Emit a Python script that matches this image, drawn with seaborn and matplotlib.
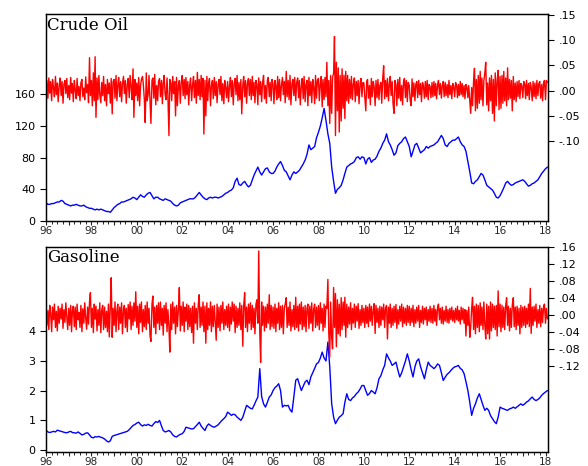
import matplotlib
matplotlib.use("Agg")
import matplotlib.pyplot as plt
import matplotlib.dates as mdates
from matplotlib.ticker import FixedLocator, FuncFormatter
import numpy as np
import pandas as pd
import seaborn as sns

# monthly prices, Jan 1996 .. Feb 2018 (crude in $/bbl, gasoline in $/gal)
crude_price = [
    23, 21, 21, 22, 22, 23, 24, 24, 26, 25, 22, 21,
    20, 19, 20, 20, 21, 20, 19, 19, 20, 18, 17, 16,
    16, 15, 14, 15, 14, 15, 14, 13, 12, 12, 11, 14,
    17, 19, 21, 22, 24, 24, 25, 26, 27, 28, 30, 29,
    27, 30, 33, 31, 30, 33, 35, 36, 32, 28, 30, 30,
    28, 27, 26, 28, 27, 26, 25, 22, 20, 19, 20, 23,
    24, 25, 26, 27, 28, 28, 28, 30, 33, 36, 33, 30,
    28, 27, 29, 30, 29, 30, 30, 29, 30, 31, 33, 35,
    36, 38, 39, 42, 50, 54, 46, 45, 48, 50, 46, 43,
    45, 52, 58, 63, 68, 62, 58, 62, 66, 67, 62, 60,
    60, 63, 68, 72, 75, 70, 64, 62, 57, 52, 58, 62,
    60, 62, 64, 68, 72, 77, 84, 96, 90, 92, 94, 105,
    112, 120, 130, 142, 127, 110, 98, 68, 50, 35, 40, 42,
    45, 52, 60, 68, 70, 72, 73, 75, 80, 81, 78, 81,
    80, 72, 78, 80, 74, 77, 78, 82, 88, 92, 98, 102,
    110, 100, 96, 90, 83, 86, 95, 98, 100, 104, 106, 100,
    94, 81, 88, 96, 98, 92, 86, 88, 90, 94, 92, 94,
    95, 96, 98, 100, 104, 108, 104, 96, 94, 98, 100, 102,
    102, 104, 106, 100, 96, 94, 88, 75, 62, 48, 47, 50,
    52, 56, 60, 58, 52, 45, 43, 41, 39, 35, 30, 29,
    32, 37, 42, 48, 50, 47, 45, 46, 48, 49, 50, 51,
    52, 50, 47, 44, 45, 47, 48, 50, 52, 56, 60, 63,
    66, 68,
]

gas_price = [
    0.66, 0.60, 0.58, 0.60, 0.62, 0.60, 0.66, 0.64, 0.62, 0.60, 0.58, 0.57,
    0.60, 0.62, 0.58, 0.57, 0.56, 0.60, 0.55, 0.50, 0.52, 0.56, 0.57, 0.50,
    0.42, 0.40, 0.44, 0.43, 0.45, 0.42, 0.40, 0.36, 0.30, 0.26, 0.30, 0.45,
    0.48, 0.50, 0.52, 0.54, 0.56, 0.58, 0.60, 0.62, 0.68, 0.75, 0.82, 0.85,
    0.90, 0.93, 0.85, 0.80, 0.84, 0.82, 0.86, 0.82, 0.80, 0.88, 0.95, 0.92,
    0.99, 0.80, 0.65, 0.60, 0.62, 0.65, 0.60, 0.50, 0.45, 0.43, 0.48, 0.52,
    0.54, 0.62, 0.76, 0.74, 0.72, 0.70, 0.71, 0.78, 0.85, 0.93, 0.80, 0.72,
    0.65, 0.80, 0.87, 0.82, 0.78, 0.76, 0.80, 0.84, 0.92, 0.99, 1.05, 1.12,
    1.27, 1.22, 1.16, 1.20, 1.18, 1.10, 1.05, 0.99, 1.10, 1.30, 1.50, 1.45,
    1.40, 1.38, 1.50, 1.65, 1.78, 2.74, 1.80, 1.55, 1.44, 1.60, 1.78, 1.85,
    2.00, 2.10, 2.15, 2.23, 2.00, 1.44, 1.50, 1.48, 1.50, 1.35, 1.27, 1.78,
    2.35, 2.40, 2.20, 2.00, 2.15, 2.29, 2.35, 2.20, 2.46, 2.60, 2.75, 2.90,
    2.95, 3.10, 3.30, 3.10, 3.00, 3.64, 2.80, 1.55, 1.10, 0.88, 1.00, 1.10,
    1.15, 1.22, 1.60, 1.89, 1.70, 1.66, 1.75, 1.80, 1.89, 1.95, 2.05, 2.17,
    2.17, 2.00, 1.84, 1.90, 2.00, 1.95, 1.89, 2.10, 2.40, 2.50, 2.70, 2.85,
    3.24, 3.10, 3.00, 2.85, 2.90, 2.96, 2.70, 2.46, 2.60, 2.80, 3.00, 3.24,
    3.00, 2.70, 2.46, 2.80, 3.00, 3.07, 2.80, 2.60, 2.40, 2.70, 2.96, 2.85,
    2.80, 2.74, 2.80, 2.90, 2.85, 2.60, 2.34, 2.45, 2.55, 2.60, 2.68, 2.75,
    2.80, 2.82, 2.85, 2.75, 2.70, 2.57, 2.30, 2.00, 1.60, 1.16, 1.40, 1.55,
    1.75, 1.89, 1.70, 1.50, 1.33, 1.40, 1.33, 1.15, 1.05, 0.95, 0.88, 1.10,
    1.44, 1.40, 1.38, 1.35, 1.33, 1.38, 1.40, 1.44, 1.40, 1.45, 1.50, 1.55,
    1.50, 1.55, 1.61, 1.65, 1.72, 1.78, 1.70, 1.66, 1.70, 1.75, 1.84, 1.90,
    1.95, 2.00,
]

# returns in thousandths, two readings per month
crude_ret = [
    -56, 20, -15, 25, -5, 18, -20, 22, 5, -12, 28, -8, 15, -22, 10, 25, -10, 18, -25, 12, 20, -6, 24, -14,
    10, -18, 26, -5, 14, -22, 20, 2, -16, 24, -10, 8, -20, 15, 22, -12, 5, -18, 27, -4, 12, -24, 65, -10,
    20, -30, 35, -20, 67, -53, 25, -18, 30, -8, -24, 16, -10, 28, -20, 12, -30, 22, -6, 15, -25, 24, -46, 18,
    22, -15, 30, -20, 10, 26, -12, 18, -22, 14, 28, -6, 20, -25, 12, 24, -14, 30, 8, -18, 43, -53, 22, -10,
    15, -20, 26, -30, 10, 22, 28, 12, -18, -63, 35, -20, -8, 30, -24, -65, 20, 25, -15, 32, -28, 10, -20, 18,
    24, -12, 20, -26, 14, 30, -8, -18, 25, -10, -89, 22, 15, -20, 28, -6, 18, -50, 26, -30, 12, 20, -25, 15,
    30, -10, 22, -16, 26, -8, 18, -28, 12, 25, -20, 10, 28, -14, 20, -25, 36, -10, 22, -18, 30, -12, 24, -86,
    20, -50, 28, -20, 15, 24, -30, 10, 20, -16, 26, -10, 18, -24, 12, 22, -8, 28, -20, 14, -26, 20, 6, -14,
    18, -22, 10, 26, -12, 20, -28, 14, 24, -8, 30, -20, 16, -18, 22, -46, 10, 28, -12, 20, -25, 15, 24, -10,
    22, -18, 28, -10, 16, -24, 20, 12, -28, 25, -8, 18, -22, 14, 30, -16, 10, -25, 20, 26, -12, 16, -20, 22,
    12, -26, 20, 8, -18, 28, -14, 22, -20, 10, 26, -8, 18, -24, 38, -12, 20, -18, 30, -28, 14, 22, -10, 26,
    -20, 16, 25, -14, 20, -28, 10, 24, -16, 28, -22, 12, 20, -30, 26, -10, 18, -24, 22, 8, -26, 30, -15, 20,
    24, -20, 14, 28, -32, 22, -18, 26, -12, 56, -30, 20, -65, 30, -45, 25, 35, 107, -89, 56, -40, 45, -82, 30,
    -60, 43, -35, 30, -55, 38, -20, 30, -25, 22, -15, 28, -18, 12, 25, -22, 18, -10, 20, -26, 14, 24, -12, 16,
    15, -12, -40, 18, 22, -15, 10, -28, 24, -12, 18, 8, -30, 20, -14, 22, -18, 10, 16, -25, 26, 49, -16, 20,
    -12, 24, -20, 14, 28, -10, 18, -26, -45, 20, 12, -30, 22, -15, 26, -20, 10, -28, 18, 24, -14, 20, -22, 16,
    10, -18, -30, 23, -12, 15, -20, 12, 18, -14, 20, -8, 14, -22, 16, 10, -15, 18, -12, 20, -18, 12, 8, -14,
    16, -12, 18, -10, 14, -16, 12, 20, -8, 14, -15, 10, 18, -12, 16, -10, 12, -14, 20, -8, 10, -16, 14, 8,
    -12, 16, 10, -14, 12, -10, 18, -8, 14, -12, 10, -16, 12, 8, -14, 10, -20, -45, 6, -30, 20, 44, -40, 22,
    -35, 30, -25, 38, -18, 25, -30, 20, 35, 56, -28, 15, -40, 25, -20, 30, -45, 22, -60, 35, -30, 20, 40, -38,
    28, -35, 30, -25, 38, -20, 25, -30, 45, -18, 22, -15, 20, -40, 28, -18, 15, -22, 18, -12, 20, -16, 14, 10,
    -14, 18, 12, -16, 20, -10, 14, -18, 16, 8, -20, 18, -12, 15, -16, 20, -10, 14, 18, -15, 12, -20, 16, 20,
    -18, 20, 16,
]

gas_ret = [
    20, -25, 10, -35, 22, 5, -40, 18, -12, 25, -30, 8, -38, 20, -20, 15, -10, 25, -32, 12, -18, 28, -5, -35,
    15, -25, 22, -40, 10, 20, -28, 18, -35, 25, -12, 5, -30, 22, -40, 14, -20, 28, -8, -34, 18, -22, 30, 52,
    -30, 15, -42, 25, -10, 20, -38, 12, -25, 28, -42, 10, 22, -35, 18, -30, 8, -40, 25, -52, 20, 87, -53, 15,
    -25, 30, -40, 10, 25, -35, 18, -20, 28, -45, 12, 22, -30, 15, -40, 24, -10, 30, -35, 20, -25, 28, -15, 54,
    -30, 20, -45, 25, -18, 30, -40, 12, -28, 22, -35, 30, -20, 15, -50, -63, 25, 44, -30, 18, -45, 22, -20, 28,
    -35, 30, -25, 15, -48, 22, -20, 28, -40, 12, -30, -88, 25, -35, 30, -20, 18, -45, 22, -28, 15, 64, -38, 20,
    -25, 30, -40, 18, -15, 25, -35, 22, -28, 15, -42, 20, -67, 28, -20, 15, -35, 22, 47, -30, 18, -25, 30, -40,
    20, -67, 28, -35, 15, -25, 30, -40, 20, -28, 22, -15, -60, 25, -30, 18, -38, 22, -20, 30, -35, 12, -25, 20,
    -30, 25, -38, 18, -22, 30, -15, 25, -42, 20, -30, 15, -25, 28, -35, 22, -74, 20, 52, -30, 18, -40, 25, -20,
    28, -35, 22, -30, 15, -45, 25, 35, -20, 150, -40, -112, 30, -25, 20, -38, 18, -30, 25, -20, 47, -35, 22, -28,
    18, -32, 25, -40, 15, -20, 28, -35, 20, -30, 22, -45, 15, 25, 40, -30, 18, -25, 30, -38, 12, -28, 22, -35,
    41, -30, 20, -38, 25, -22, 30, -35, 18, -28, 22, -40, 15, 25, -32, 20, -20, 28, -38, 12, 25, -30, 18, -25,
    22, -35, 28, -20, 15, -38, 25, -30, 20, 15, 83, -40, -100, 30, -55, -80, 64, -30, 50, -75, 35, -45, 25, -50,
    40, -35, 30, -25, 41, -53, 25, -30, 18, -22, 28, -35, 15, -20, 25, -30, 20, -15, 26, -32, 12, -25, 22, -18,
    15, -30, 22, -20, 18, -28, 25, -15, 20, -25, 12, 26, -44, 22, -18, 15, -30, 20, -25, 18, -12, 25, -30, 15,
    22, -57, 18, -20, 25, -30, 15, -25, 20, -18, 24, -32, 12, -22, 20, -15, 25, -28, 18, -20, 15, -25, 22, -18,
    20, -25, 15, -18, 22, -28, 12, -20, 18, -15, 22, -30, 10, -18, 20, -22, 15, -12, 18, -25, 12, -15, 20, -18,
    15, -20, 22, -15, 12, -25, 18, 25, -12, 15, -20, 18, -22, 10, -15, 20, -18, 12, -20, 15, -12, 18, -15, 10,
    -18, 15, -12, 20, -15, 10, -22, 18, -12, 15, -20, 12, -50, 10, -25, 18, -53, -30, 15, 41, -35, 20, -45, 25,
    -30, 22, -40, 28, -25, 18, -35, 30, -25, -57, 25, -45, 20, -57, 30, -38, 25, -30, 20, -35, 22, -50, 56, -28,
    25, -40, 22, -30, 18, -35, 22, 40, -25, 20, -38, 15, -30, 22, 40, -28, 18, -35, 20, -25, 15, -45, 22, -30,
    18, -25, 20, -30, 15, -22, 25, -28, 62, -44, 18, -25, 20, -15, 25, -30, 12, -20, 22, -28, 15, -18, 20, 25,
    -20, 15, -10,
]

sns.set_style("ticks")
plt.rcParams["font.family"] = ["DejaVu Sans"]
plt.rcParams["axes.unicode_minus"] = False

BLUE = "#0000FF"
RED = "#FF0000"
X_START = pd.Timestamp("1996-01-01")
X_END = pd.Timestamp("2018-02-10")


def year_label(x, pos):
    yr = mdates.num2date(x).year
    return f"{yr % 100:02d}" if yr % 2 == 0 else ""


def draw_panel(ax, price, ret, name, left_lim, left_ticks, right_lim, right_ticks, right_labels):
    price_dates = pd.date_range("1996-01-01", periods=len(price), freq="MS")
    ret_dates = pd.date_range("1996-01-01", periods=len(ret), freq="SMS")
    ret_vals = np.asarray(ret) / 1000.0

    ax2 = ax.twinx()
    sns.lineplot(x=price_dates, y=np.asarray(price), ax=ax, color=BLUE, linewidth=1.0, errorbar=None)
    sns.lineplot(x=ret_dates, y=ret_vals, ax=ax2, color=RED, linewidth=1.0, errorbar=None)

    ax.set_xlim(X_START, X_END)
    ax.set_ylim(*left_lim)
    ax2.set_ylim(*right_lim)
    ax.set_xlabel("")
    ax.set_ylabel("")
    ax2.set_ylabel("")

    ax.yaxis.set_major_locator(FixedLocator(left_ticks))
    ax.set_yticklabels([str(t) for t in left_ticks])
    ax2.yaxis.set_major_locator(FixedLocator(right_ticks))
    ax2.set_yticklabels(right_labels)

    ax.xaxis.set_major_locator(mdates.YearLocator(1))
    ax.xaxis.set_major_formatter(FuncFormatter(year_label))
    ax.xaxis.set_minor_locator(mdates.MonthLocator(bymonth=[4, 7, 10]))

    ax.tick_params(axis="y", direction="out", length=4.5, width=0.8, labelsize=8, pad=3, colors="black")
    ax2.tick_params(axis="y", direction="out", length=4.5, width=0.8, labelsize=8, pad=3, colors="black")
    ax.tick_params(axis="x", which="major", direction="out", length=3, width=0.8, labelsize=7.5, pad=0.8)
    ax.tick_params(axis="x", which="minor", direction="out", length=1.8, width=0.7)

    for a in (ax, ax2):
        for sp in a.spines.values():
            sp.set_visible(True)
            sp.set_color("black")
            sp.set_linewidth(0.9)

    ax2.text(0.002, 0.99, name, transform=ax.transAxes, ha="left", va="top",
             family="DejaVu Serif", fontsize=12, color="black")


fig = plt.figure(figsize=(5.88, 4.66), dpi=100)
W, H = 588.0, 466.0
ax_top = fig.add_axes([46 / W, 1 - 221 / H, 502 / W, (221 - 14.5) / H])
ax_bot = fig.add_axes([46 / W, 1 - 452 / H, 502 / W, (452 - 246.5) / H])

draw_panel(
    ax_top, crude_price, crude_ret, "Crude Oil",
    (0, 260.6), [0, 40, 80, 120, 160],
    (-0.258, 0.1505), [-0.10, -0.05, 0.0, 0.05, 0.10, 0.15],
    ["-.10", "-.05", ".00", ".05", ".10", ".15"],
)
draw_panel(
    ax_bot, gas_price, gas_ret, "Gasoline",
    (-0.078, 6.87), [0, 1, 2, 3, 4],
    (-0.323, 0.1605), [-0.12, -0.08, -0.04, 0.0, 0.04, 0.08, 0.12, 0.16],
    ["-.12", "-.08", "-.04", ".00", ".04", ".08", ".12", ".16"],
)

fig.savefig("out.png", dpi=100)
